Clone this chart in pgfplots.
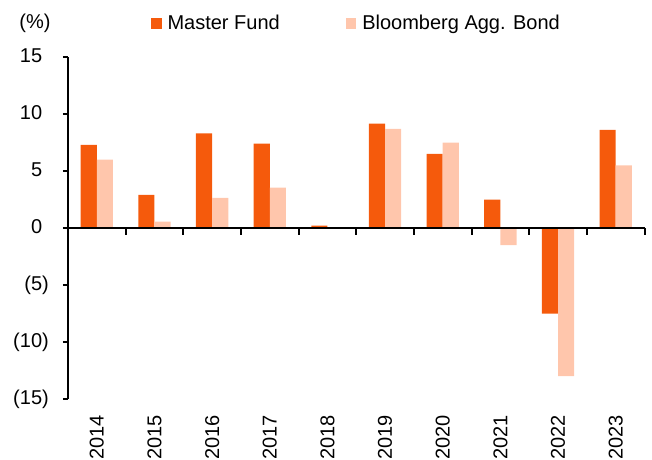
\documentclass[border=0pt]{standalone}
\usepackage{fontspec}
\setmainfont{Liberation Sans}
\usepackage{pgfplots}
\pgfplotsset{compat=1.18}
\definecolor{mf}{RGB}{245,90,12}
\definecolor{bb}{RGB}{255,198,172}
\newcommand{\fs}{\fontsize{20}{24}\selectfont}
\begin{document}
\begin{tikzpicture}
\begin{axis}[
  name=ax, at={(0,0)}, anchor=south west,
  scale only axis, width=576.5pt, height=342pt,
  xmin=-0.5, xmax=9.5, ymin=-15, ymax=15,
  clip=false,
  ytick={-15,-10,...,15},
  yticklabels={(15),(10),(5),0\phantom{)},5\phantom{)},10\phantom{)},15\phantom{)}},
  xtick={0,1,2,3,4,5,6,7,8,9},
  xticklabels={2014,2015,2016,2017,2018,2019,2020,2021,2022,2023},
  axis y line*=left, axis x line*=bottom,
  x axis line style={draw=none},
  xtick style={draw=none},
  y axis line style={line width=2pt, black},
  ytick style={line width=2pt, black},
  tick align=outside, major tick length=5pt,
  yticklabel style={font=\fs, inner sep=0pt, xshift=-14pt},
  xticklabel style={font=\fs, rotate=90, anchor=east, inner sep=0pt},
  xticklabel shift=11pt,
  ybar=0pt, bar width=0.28,
  legend columns=-1,
  legend style={draw=none, fill=none, font=\fs, inner sep=0pt, outer sep=0pt,
    at={(axis description cs:0.144,1.098)}, anchor=west,
    /tikz/every even column/.append style={column sep=66pt},
    nodes={inner sep=0pt, outer sep=0pt}},
  legend image code/.code={\fill[#1,draw=none] (0pt,-5.25pt) rectangle (10.5pt,5.25pt);},
  legend cell align=left,
]
\addplot[fill=mf, draw=none, bar shift=-0.14] coordinates {
 (0,7.3) (1,2.9) (2,8.3) (3,7.4) (4,0.2) (5,9.15) (6,6.5) (7,2.5) (8,-7.5) (9,8.6)};
\addlegendentry{\hspace{6pt}Master Fund}
\addplot[fill=bb, draw=none, bar shift=0.14] coordinates {
 (0,6.0) (1,0.55) (2,2.65) (3,3.55) (4,0.01) (5,8.7) (6,7.5) (7,-1.5) (8,-13.0) (9,5.5)};
\addlegendentry{\hspace{6pt}Bloomberg Agg. Bond}
\draw[line width=2pt, black] (axis cs:-0.5,0) -- (axis cs:9.5,0);
\pgfplotsinvokeforeach{-0.5,0.5,1.5,2.5,3.5,4.5,5.5,6.5,7.5,8.5,9.5}{
  \draw[line width=2pt, black] (axis cs:#1,0) -- ([yshift=-7pt]axis cs:#1,0);
}
\node[font=\fs, anchor=center] at (axis description cs:-0.0572,1.0994) {(\%)};
\end{axis}
\pgfresetboundingbox
\path[use as bounding box] ([shift={(-68pt,-60pt)}]ax.south west) rectangle ([shift={(7.5pt,57pt)}]ax.north east);
\end{tikzpicture}
\end{document}
